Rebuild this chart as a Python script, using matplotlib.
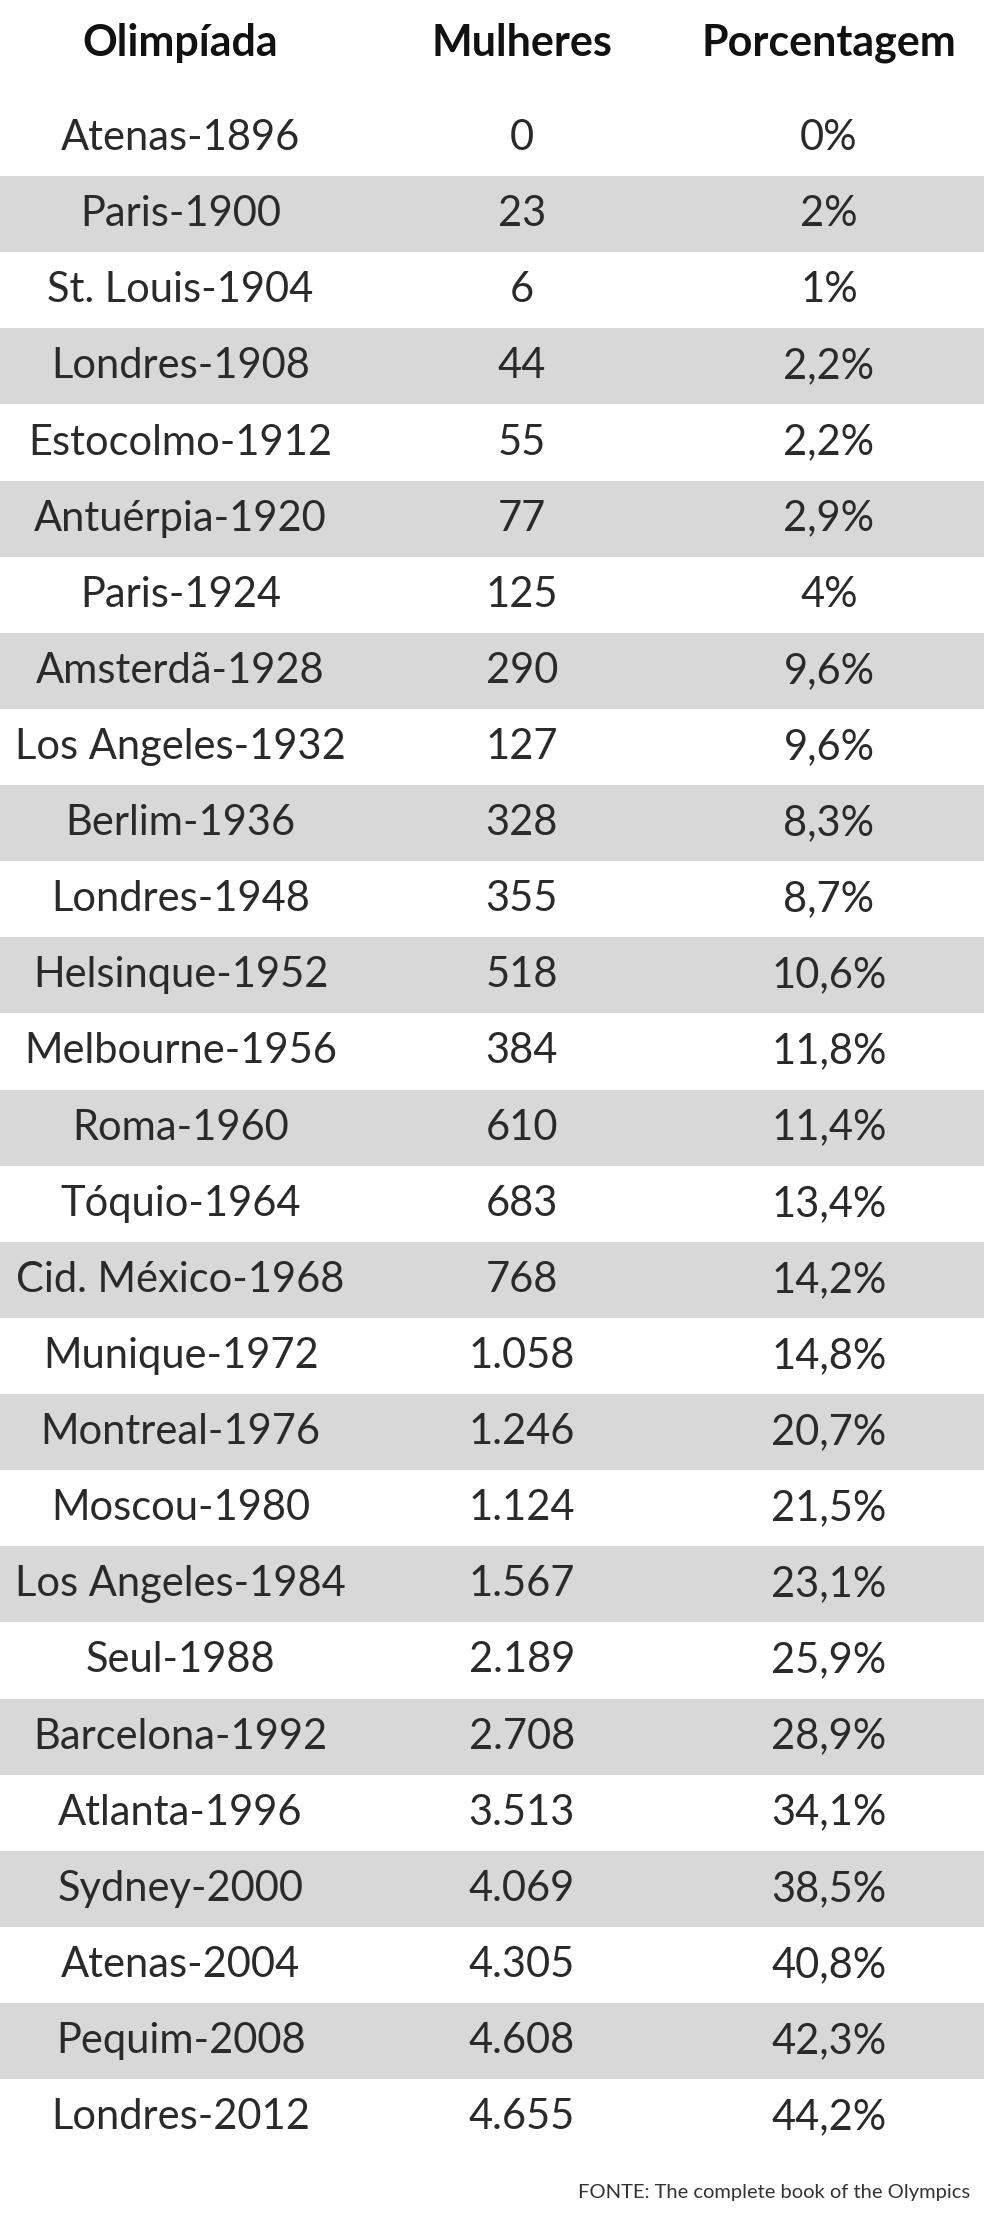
import matplotlib.pyplot as plt
from matplotlib.patches import Rectangle

headers = ["Olimpíada", "Mulheres", "Porcentagem"]
olimpiadas = ["Atenas-1896", "Paris-1900", "St. Louis-1904", "Londres-1908", "Estocolmo-1912",
              "Antuérpia-1920", "Paris-1924", "Amsterdã-1928", "Los Angeles-1932", "Berlim-1936",
              "Londres-1948", "Helsinque-1952", "Melbourne-1956", "Roma-1960", "Tóquio-1964",
              "Cid. México-1968", "Munique-1972", "Montreal-1976", "Moscou-1980", "Los Angeles-1984",
              "Seul-1988", "Barcelona-1992", "Atlanta-1996", "Sydney-2000", "Atenas-2004",
              "Pequim-2008", "Londres-2012"]
mulheres = ["0", "23", "6", "44", "55", "77", "125", "290", "127", "328", "355", "518", "384",
            "610", "683", "768", "1.058", "1.246", "1.124", "1.567", "2.189", "2.708", "3.513",
            "4.069", "4.305", "4.608", "4.655"]
porcentagem = ["0%", "2%", "1%", "2,2%", "2,2%", "2,9%", "4%", "9,6%", "9,6%", "8,3%", "8,7%",
               "10,6%", "11,8%", "11,4%", "13,4%", "14,2%", "14,8%", "20,7%", "21,5%", "23,1%",
               "25,9%", "28,9%", "34,1%", "38,5%", "40,8%", "42,3%", "44,2%"]
fonte = "FONTE: The complete book of the Olympics"

W, H = 692, 1568
col_x = [127, 367, 583]
row0, row_h = 97, 53.5

fig = plt.figure(figsize=(9.84, 22.31), dpi=100)
ax = fig.add_axes([0, 0, 1, 1])
ax.set_xlim(0, W)
ax.set_ylim(H, 0)
ax.axis("off")

for x, h in zip(col_x, headers):
    ax.text(x, 30, h, ha="center", va="center", fontsize=31, fontweight="bold",
            family="Lato", color="#111111")

for i, row in enumerate(zip(olimpiadas, mulheres, porcentagem)):
    y = row0 + i * row_h
    if i % 2 == 1:
        ax.add_patch(Rectangle((0, y - row_h / 2), W, row_h, color="#d8d8d8", lw=0))
    for x, t in zip(col_x, row):
        ax.text(x, y, t, ha="center", va="center", fontsize=30, family="Lato",
                color="#2a2a2a")

ax.text(682, 1541, fonte, ha="right", va="center", fontsize=14.5, family="Lato", color="#333333")

fig.savefig("out.png", dpi=100)
